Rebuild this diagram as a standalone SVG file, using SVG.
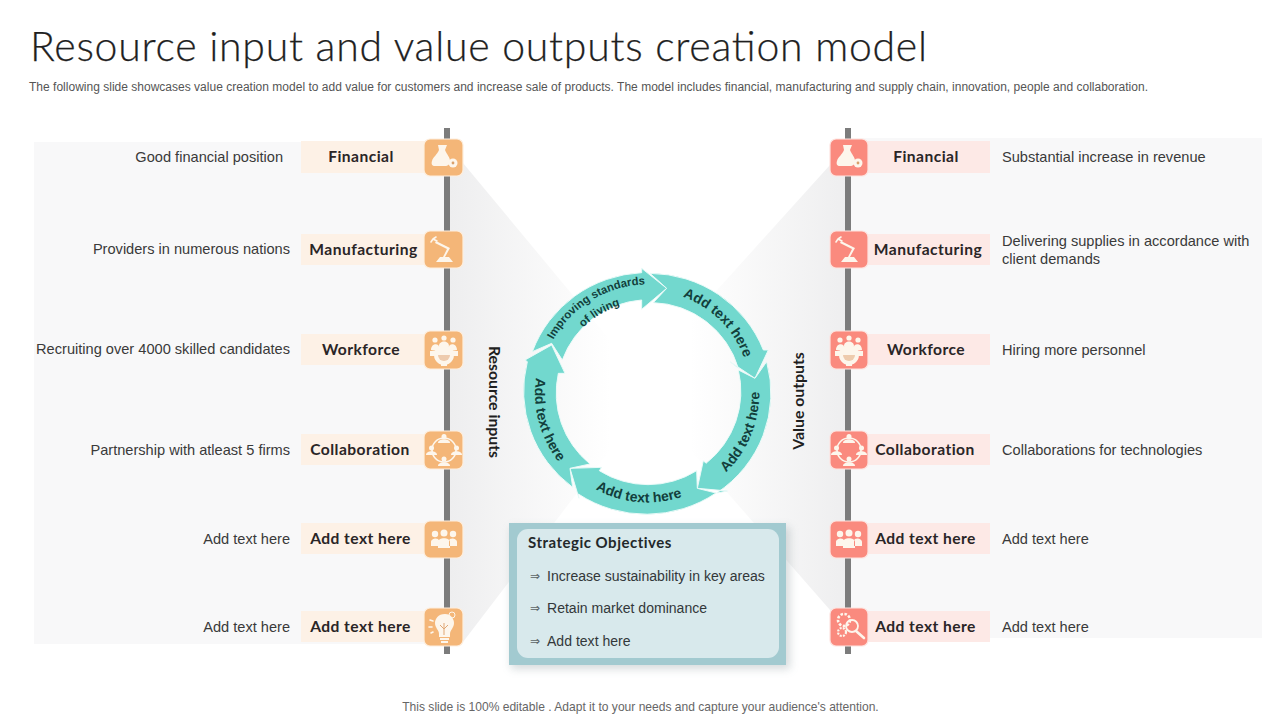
<svg xmlns="http://www.w3.org/2000/svg" xmlns:xlink="http://www.w3.org/1999/xlink" width="1280" height="720" viewBox="0 0 1280 720">
<style>
.body{font-family:"Liberation Sans",Arial,sans-serif;font-size:14.6px;fill:#3a3a3a}
.lab{font-family:"Lato","Liberation Sans",sans-serif;font-weight:700;font-size:15.6px;fill:#2a2526;text-anchor:middle;letter-spacing:.45px}
.end{text-anchor:end}
.ring{font-family:"Liberation Sans",Arial,sans-serif;font-weight:700;font-size:42px;fill:#123f3c;text-anchor:middle}
.ring2{font-size:34px}
.seg{fill:#72d8ce;stroke:#eafaf8;stroke-width:3}
.ic{fill:#fdf6ec;stroke:none}
.icl{fill:none;stroke:#fdf6ec;stroke-width:1.6;stroke-linecap:round}
.il{fill:#f4b678;stroke:#fdeedd;stroke-width:1.2}
.ir{fill:#fa8a7e;stroke:#fde3df;stroke-width:1.2}
.ll{fill:#fdf1e6}
.lr{fill:#fde9e6}
.bar{fill:#7c7c7c}
.panel{fill:#f8f8f9}
.item{font-family:"Liberation Sans",Arial,sans-serif;font-size:14.05px;fill:#33383a}
.arr{font-family:"DejaVu Sans",sans-serif;font-size:12px;fill:#5b6466}
</style>
<defs>
<linearGradient id="gl" x1="0" x2="1" y1="0" y2="0"><stop offset="0" stop-color="#eeeeef"/><stop offset="1" stop-color="#ffffff"/></linearGradient>
<linearGradient id="gr" x1="1" x2="0" y1="0" y2="0"><stop offset="0" stop-color="#eeeeef"/><stop offset="1" stop-color="#ffffff"/></linearGradient>
<filter id="sh" x="-10%" y="-10%" width="125%" height="125%"><feGaussianBlur stdDeviation="4"/></filter>
<symbol id="flask" viewBox="0 0 38 38" overflow="visible"><path class="ic" d="M13 6h9l-2 5c2 5 5 7 5 11 0 3-2 5-5 5H10c-3 0-4-2-3-5 1-4 5-6 7-11z"/><circle class="ic" cx="28" cy="24" r="4.500"/><circle cx="28" cy="24" r="1.400" fill="#d9a06a"/></symbol>
<symbol id="robot" viewBox="0 0 38 38" overflow="visible"><path class="ic" d="M11 31h17l-4-5h-4l5-9-14-7-1 2 12 6-4 8h-3z"/><path class="icl" d="M12 10L8 8M8 8l-2 3M8 8l3-2"/></symbol>
<symbol id="gear" viewBox="0 0 38 38" overflow="visible"><path class="ic" d="M19 14a10 10 0 1 1-.01 0zM5 20h6v5H5zM27 20h6v5h-6zM16 31h6v4h-6z"/><path d="M13 24a6 6 0 0 0 12 0z" fill="#e0a06e" opacity=".5"/><circle class="ic" cx="10" cy="9" r="2.600"/><circle class="ic" cx="19" cy="7" r="2.600"/><circle class="ic" cx="28" cy="9" r="2.600"/><path class="ic" d="M6 19c0-7 8-7 8-3l-2 4zM32 19c0-7-8-7-8-3l2 4zM14 15c0-6 10-6 10 0z"/></symbol>
<symbol id="collab" viewBox="0 0 38 38" overflow="visible"><circle class="icl" cx="19" cy="19" r="12"/><g class="ic"><circle cx="19" cy="5.500" r="2.500"/><path d="M13 12c0-5 12-5 12 0z"/><circle cx="6.500" cy="17" r="2.500"/><path d="M1 24c0-5 11-5 11 0z"/><circle cx="31.500" cy="17" r="2.500"/><path d="M26 24c0-5 11-5 11 0z"/><circle cx="19" cy="28" r="2.500"/><path d="M13 35c0-5 12-5 12 0z"/></g></symbol>
<symbol id="team" viewBox="0 0 38 38" overflow="visible"><g class="ic"><circle cx="10" cy="13" r="3.200"/><circle cx="19" cy="12" r="3.500"/><circle cx="28" cy="13" r="3.200"/><path d="M6 25v-4c0-4 8-5 8-1v5zM32 25v-4c0-4-8-5-8-1v5zM13 27v-6c0-5 12-5 12 0v6z"/></g></symbol>
<symbol id="bulb" viewBox="0 0 38 38" overflow="visible"><path class="ic" d="M20 6c-7 0-10 5-10 9 0 5 4 7 4 11v3h11v-3c0-4 4-6 4-11 0-4-3-9-9-9zM15 30h9v2h-9zM16 33h7v2h-7z"/><circle cx="27" cy="7" r="3" fill="none" stroke="#fdf6ec" stroke-width="1"/><path class="icl" d="M5 12l3 1M4 19h3M6 25l2-1"/><path d="M19 15v12M15 17l4 4 4-4" fill="none" stroke="#e0a774" stroke-width="1"/></symbol>
<symbol id="search" viewBox="0 0 38 38" overflow="visible"><circle cx="14" cy="12" r="6" fill="none" stroke="#fdf6ec" stroke-width="2.600" stroke-dasharray="2.500 1.500"/><circle cx="12" cy="24" r="4" fill="none" stroke="#fdf6ec" stroke-width="2.200" stroke-dasharray="2 1.200"/><circle cx="22" cy="18" r="6" fill="none" stroke="#fdf6ec" stroke-width="1.800"/><path d="M26 23l8 7" stroke="#fdf6ec" stroke-width="2.600" stroke-linecap="round"/></symbol>
<path id="t1a" d="M146 297A326 326 0 0 1 466 104"/>
<path id="t1b" d="M191 317A276 276 0 0 1 462 154"/>
<path id="t2" d="M496.500 126A308 308 0 0 1 746 375.500"/>
<path id="t3" d="M610.500 719A335 335 0 0 0 766.600 342"/>
<path id="t4" d="M211 661A328 328 0 0 0 631 698"/>
<path id="t5" d="M137 286A338 338 0 0 0 249 706"/>
</defs>
<rect width="1280" height="720" fill="#ffffff"/>
<g id="backdrop">
<rect class="panel" x="34" y="142" width="413" height="502"/>
<rect class="panel" x="848" y="138" width="414" height="500"/>
<polygon fill="url(#gl)" points="450,142 463,163 610,340 610,450 463,642 450,644"/>
<polygon fill="url(#gr)" points="845,165 830,165 690,320 690,450 830,610 848,638"/>
</g>
<text x="30" y="61" font-family="Lato,'Liberation Sans',sans-serif" font-weight="300" font-size="41px" fill="#1f1f1f" stroke="#1f1f1f" stroke-width=".25" textLength="897" lengthAdjust="spacing">Resource input and value outputs creation model</text>
<text x="29" y="91" font-family="'Liberation Sans',Arial,sans-serif" font-size="12px" fill="#555555" textLength="1119" lengthAdjust="spacing">The following slide showcases value creation model to add value for customers and increase sale of products. The model includes financial, manufacturing and supply chain, innovation, people and collaboration.</text>
<g id="connectors">
<rect class="bar" x="444" y="128" width="6" height="526"/>
<rect class="bar" x="845" y="128" width="6" height="526"/>
</g>
<g id="input-financial"><text class="body end" x="283" y="162">Good financial position</text><rect class="ll" x="301" y="141" width="124" height="32"/><text class="lab" x="361" y="162">Financial</text><rect class="il" x="424" y="139" width="39" height="37" rx="6"/><use href="#flask" x="425" y="139" width="38" height="38"/></g>
<g id="input-manufacturing"><text class="body end" x="290" y="254">Providers in numerous nations</text><rect class="ll" x="301" y="234" width="124" height="31"/><text class="lab" x="363.500" y="255">Manufacturing</text><rect class="il" x="424" y="231" width="39" height="37" rx="6"/><use href="#robot" x="425" y="231" width="38" height="38"/></g>
<g id="input-workforce"><text class="body end" x="290" y="354">Recruiting over 4000 skilled candidates</text><rect class="ll" x="301" y="334" width="124" height="31"/><text class="lab" x="361" y="355">Workforce</text><rect class="il" x="424" y="331" width="39" height="38" rx="6"/><use href="#gear" x="425" y="331" width="38" height="38"/></g>
<g id="input-collaboration"><text class="body end" x="290" y="455">Partnership with atleast 5 firms</text><rect class="ll" x="301" y="434" width="124" height="31"/><text class="lab" x="360" y="455">Collaboration</text><rect class="il" x="424" y="431" width="39" height="38" rx="6"/><use href="#collab" x="425" y="431" width="38" height="38"/></g>
<g id="input-extra1"><text class="body end" x="290" y="544">Add text here</text><rect class="ll" x="301" y="523" width="124" height="31"/><text class="lab" x="360.500" y="544">Add text here</text><rect class="il" x="424" y="521" width="39" height="37" rx="6"/><use href="#team" x="425" y="521" width="38" height="38"/></g>
<g id="input-extra2"><text class="body end" x="290" y="632">Add text here</text><rect class="ll" x="301" y="611" width="124" height="31"/><text class="lab" x="360.500" y="632">Add text here</text><rect class="il" x="424" y="608" width="39" height="38" rx="6"/><use href="#bulb" x="425" y="608" width="38" height="38"/></g>
<g id="output-financial"><rect class="lr" x="866" y="141" width="124" height="32"/><text class="lab" x="926" y="162">Financial</text><rect class="ir" x="830" y="139" width="38" height="37" rx="6"/><use href="#flask" x="830" y="139" width="38" height="38"/><text class="body" x="1002" y="162">Substantial increase in revenue</text></g>
<g id="output-manufacturing"><rect class="lr" x="866" y="234" width="124" height="31"/><text class="lab" x="928" y="255">Manufacturing</text><rect class="ir" x="830" y="231" width="38" height="37" rx="6"/><use href="#robot" x="830" y="231" width="38" height="38"/><text class="body" x="1002" y="246">Delivering supplies in accordance with</text><text class="body" x="1002" y="264">client demands</text></g>
<g id="output-workforce"><rect class="lr" x="866" y="334" width="124" height="31"/><text class="lab" x="926" y="355">Workforce</text><rect class="ir" x="830" y="331" width="38" height="38" rx="6"/><use href="#gear" x="830" y="331" width="38" height="38"/><text class="body" x="1002" y="355">Hiring more personnel</text></g>
<g id="output-collaboration"><rect class="lr" x="866" y="434" width="124" height="31"/><text class="lab" x="925" y="455">Collaboration</text><rect class="ir" x="830" y="431" width="38" height="38" rx="6"/><use href="#collab" x="830" y="431" width="38" height="38"/><text class="body" x="1002" y="455">Collaborations for technologies</text></g>
<g id="output-extra1"><rect class="lr" x="866" y="523" width="124" height="31"/><text class="lab" x="925.500" y="544">Add text here</text><rect class="ir" x="830" y="521" width="38" height="37" rx="6"/><use href="#team" x="830" y="521" width="38" height="38"/><text class="body" x="1002" y="544">Add text here</text></g>
<g id="output-extra2"><rect class="lr" x="866" y="611" width="124" height="31"/><text class="lab" x="925.500" y="632">Add text here</text><rect class="ir" x="830" y="608" width="38" height="38" rx="6"/><use href="#search" x="830" y="608" width="38" height="38"/><text class="body" x="1002" y="632">Add text here</text></g>
<g id="side-labels">
<text transform="translate(489 402) rotate(90)" x="0" y="0" text-anchor="middle" font-family="Lato,'Liberation Sans',sans-serif" font-weight="700" font-size="15.800px" fill="#1f1f1f">Resource inputs</text>
<text transform="translate(804 401) rotate(-90)" x="0" y="0" text-anchor="middle" font-family="Lato,'Liberation Sans',sans-serif" font-weight="700" font-size="15.800px" fill="#1f1f1f">Value outputs</text>
</g>
<g id="cycle" transform="translate(500 250) scale(.33333)">
<path id="seg1" class="seg" d="M97 305A368 361 0 0 1 425 68L425 55L500 115L425 178L425 150A275 275 0 0 0 187 330L155 280Z"/>
<path id="seg2" class="seg" d="M450 70A368 361 0 0 1 790 300L805 300L765 385L690 335L715 355A275 275 0 0 0 460 158L500 115Z"/>
<path id="seg3" class="seg" d="M800 335A368 361 0 0 1 650 729L683 723L592 715L610 632L618 640A275 275 0 0 0 715 360L765 385Z"/>
<path id="seg4" class="seg" d="M648 729A368 361 0 0 1 235 732L237 745L210 655L305 652L298 662A275 275 0 0 0 590 662L592 715Z"/>
<path id="seg5" class="seg" d="M218 712A368 361 0 0 1 82 335L75 330L155 285L195 370L175 370A275 275 0 0 0 270 642L210 655Z"/>
<text class="ring ring2"><textPath href="#t1a" startOffset="50%">Improving standards</textPath></text>
<text class="ring ring2"><textPath href="#t1b" startOffset="50%">of living</textPath></text>
<text class="ring"><textPath href="#t2" startOffset="50%">Add text here</textPath></text>
<text class="ring"><textPath href="#t3" startOffset="50%">Add text here</textPath></text>
<text class="ring"><textPath href="#t4" startOffset="50%">Add text here</textPath></text>
<text class="ring"><textPath href="#t5" startOffset="50%">Add text here</textPath></text>
</g>
<g id="strategic-objectives">
<rect x="511" y="527" width="279" height="142" fill="#8a9a9e" opacity=".35" filter="url(#sh)"/>
<rect x="509" y="523" width="277" height="142" fill="#a2cad0"/>
<rect x="517" y="529" width="262" height="129" rx="11" fill="#d8e9ec"/>
<text x="528" y="548" font-family="Lato,'Liberation Sans',sans-serif" font-weight="700" font-size="15px" fill="#23282a" letter-spacing=".5">Strategic Objectives</text>
<text class="arr" x="530" y="580">⇒</text><text class="item" x="547" y="581">Increase sustainability in key areas</text>
<text class="arr" x="530" y="612">⇒</text><text class="item" x="547" y="613">Retain market dominance</text>
<text class="arr" x="530" y="645">⇒</text><text class="item" x="547" y="646">Add text here</text>
</g>
<text x="640.500" y="711" text-anchor="middle" font-family="'Liberation Sans',Arial,sans-serif" font-size="12.050px" fill="#666666">This slide is 100% editable . Adapt it to your needs and capture your audience's attention.</text>
</svg>
